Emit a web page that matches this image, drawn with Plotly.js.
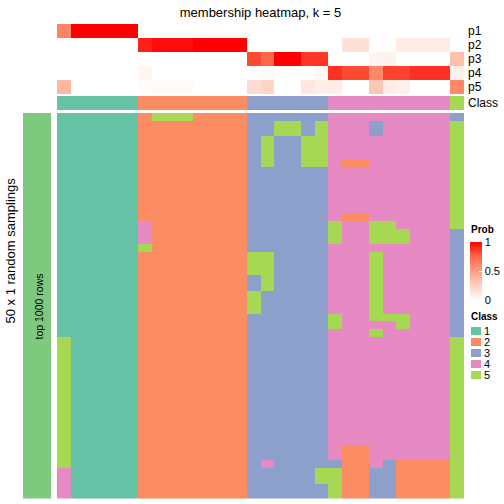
<!DOCTYPE html>
<html><head><meta charset="utf-8">
<script src="https://cdn.plot.ly/plotly-3.0.1.min.js"></script>
<style>html,body{margin:0;padding:0;background:#fff}#chart{width:504px;height:504px}</style>
</head><body><div id="chart"></div>
<script>
// ---- data ----
const classNames = ['1','2','3','4','5'];
const classColors = ['#66C2A5','#FC8D62','#8DA0CB','#E78AC3','#A6D854'];
const probRows = ['p1','p2','p3','p4','p5'];
const p1 = [0.62,1,1,1,1,1, 0,0,0,0,0,0,0,0, 0,0,0,0,0,0, 0,0,0,0,0,0,0,0,0, 0];
const p2 = [0,0,0,0,0,0, 0.92,0.97,0.97,0.97,1,1,1,1, 0,0,0,0,0,0, 0,0.16,0.16,0,0,0.1,0.1,0.1,0.1, 0];
const p3 = [0,0,0,0,0,0, 0,0,0,0,0,0,0,0, 0.82,0.75,1,1,0.87,0.87, 0.01,0,0,0.06,0.07,0,0,0,0, 0.32];
const p4 = [0,0,0,0,0,0, 0.05,0,0,0,0,0,0,0, 0,0.02,0,0,0,0.04, 0.88,0.82,0.82,0.6,0.84,0.84,0.88,0.88,0.88, 0.08];
const p5 = [0.38,0,0,0,0,0, 0.02,0.03,0.03,0.03,0,0,0,0, 0.18,0.22,0,0,0.13,0.09, 0.1,0,0,0.3,0.1,0.08,0,0,0, 0.6];
const consensusClass = [1,1,1,1,1,1, 2,2,2,2,2,2,2,2, 3,3,3,3,3,3, 4,4,4,4,4,4,4,4,4, 5];
// 50 random samplings (rows) x 30 samples (columns), class per cell
const samplings = [
 '111111 25552222 333333 444444444 3',
 '111111 22222222 335535 444344444 5',
 '111111 22222222 335535 444344444 5',
 '111111 22222222 353355 444444444 5',
 '111111 22222222 353355 444444444 5',
 '111111 22222222 353355 444444444 5',
 '111111 22222222 353355 422444444 5',
 '111111 22222222 333333 444444444 5',
 '111111 22222222 333333 444444444 5',
 '111111 22222222 333333 444444444 5',
 '111111 22222222 333333 444444444 5',
 '111111 22222222 333333 444444444 5',
 '111111 22222222 333333 444444444 5',
 '111111 22222222 333333 422444444 5',
 '111111 42222222 333333 544554444 5',
 '111111 42222222 333333 544555444 3',
 '111111 42222222 333333 544555444 3',
 '111111 52222222 333333 444444444 3',
 '111111 22222222 553333 444544444 3',
 '111111 22222222 553333 444544444 3',
 '111111 22222222 553333 444544444 3',
 '111111 22222222 353333 444544444 3',
 '111111 22222222 353333 444544444 3',
 '111111 22222222 533333 444544444 3',
 '111111 22222222 533333 444544444 3',
 '111111 22222222 533333 444544444 3',
 '111111 22222222 333333 544555444 3',
 '111111 22222222 333333 544445444 3',
 '111111 22222222 333333 444544444 3',
 '511111 22222222 333333 444444444 5',
 '511111 22222222 333333 444444444 5',
 '511111 22222222 333333 444444444 5',
 '511111 22222222 333333 444444444 5',
 '511111 22222222 333333 444444444 5',
 '511111 22222222 333333 444444444 5',
 '511111 22222222 333333 444444444 5',
 '511111 22222222 333333 444444444 5',
 '511111 22222222 333333 444444444 5',
 '511111 22222222 333333 444444444 5',
 '511111 22222222 333333 444444444 5',
 '511111 22222222 333333 444444444 5',
 '511111 22222222 333333 444444444 5',
 '511111 22222222 333333 444444444 5',
 '511111 22222222 333333 422444444 5',
 '511111 22222222 333333 422444444 5',
 '511111 22222222 343333 322432222 5',
 '411111 22222222 333335 522332222 5',
 '411111 22222222 333335 522332222 5',
 '411111 22222222 333333 522332222 5',
 '411111 22222222 333333 522332222 5'
];
const rowAnnoLabel = 'top 1000 rows';
const rowTitle = '50 x 1 random samplings';

// ---- layout helpers ----
const W = 504;
const px = v => v / W;
const py = v => 1 - v / W;
const FONT = 'Liberation Sans, Arial, Helvetica, sans-serif';

const classScale = [];
classColors.forEach((c, i) => { classScale.push([i / 5, c]); classScale.push([(i + 1) / 5, c]); });
const probScale = [[0,'#FFFFFF'],[0.25,'rgb(255,207,191)'],[0.5,'rgb(255,158,129)'],[0.75,'rgb(255,103,70)'],[1,'#FF0000']];

const mainZ = samplings.map(s => s.replace(/ /g, '').split('').map(Number));

const traces = [
  { type:'heatmap', z:[p1,p2,p3,p4,p5], y:probRows, xaxis:'x', yaxis:'y',
    zmin:0, zmax:1, colorscale:probScale, hoverinfo:'skip',
    colorbar:{ x:px(470), xanchor:'left', y:py(242), yanchor:'top', len:58, lenmode:'pixels',
      thickness:12, thicknessmode:'pixels', outlinewidth:0, ticks:'inside', ticklen:3, tickcolor:'#fff',
      tickvals:[0,0.5,1], ticktext:['0','0.5','1'], tickfont:{size:11, family:FONT, color:'#000'}, xpad:0, ypad:0 } },
  { type:'heatmap', z:[consensusClass], y:['Class'], xaxis:'x', yaxis:'y2',
    zmin:0.5, zmax:5.5, colorscale:classScale, showscale:false, hoverinfo:'skip' },
  { type:'heatmap', z:mainZ, xaxis:'x', yaxis:'y3',
    zmin:0.5, zmax:5.5, colorscale:classScale, showscale:false, hoverinfo:'skip' },
  { type:'heatmap', z:[[1]], xaxis:'x2', yaxis:'y4',
    colorscale:[[0,'#7FC97F'],[1,'#7FC97F']], showscale:false, hoverinfo:'skip' },
  { type:'heatmap', z:classNames.map(c => [Number(c)]), y:classNames, xaxis:'x3', yaxis:'y5',
    zmin:0.5, zmax:5.5, colorscale:classScale, showscale:false, ygap:3, hoverinfo:'skip' }
];

const hidden = { showgrid:false, zeroline:false, showticklabels:false, ticks:'', showline:false };
const layout = {
  width:504, height:504, margin:{l:0,r:0,t:0,b:0}, paper_bgcolor:'#fff', plot_bgcolor:'#fff',
  font:{family:FONT, color:'#000'},
  title:{ text:'membership heatmap, k = 5', x:px(260.5), xanchor:'center', xref:'paper',
          y:py(12), yanchor:'middle', yref:'paper', font:{size:13, family:FONT, color:'#000'} },
  xaxis: Object.assign({ domain:[px(57), px(464)], range:[-0.5, 29.5] }, hidden),
  yaxis: { domain:[py(94), py(24)], type:'category', autorange:'reversed', side:'right', anchor:'x',
           tickmode:'array', tickvals:probRows, ticktext:probRows,
           showgrid:false, zeroline:false, ticks:'', tickfont:{size:12}, ticklabelstandoff:3 },
  yaxis2:{ domain:[py(110), py(96)], type:'category', side:'right', anchor:'x',
           tickmode:'array', tickvals:['Class'], ticktext:['Class'],
           showgrid:false, zeroline:false, ticks:'', tickfont:{size:12}, ticklabelstandoff:3 },
  yaxis3: Object.assign({ domain:[py(498.5), py(113)], range:[49.5, -0.5], anchor:'x' }, hidden),
  xaxis2: Object.assign({ domain:[px(23), px(51)], range:[-0.5, 0.5], anchor:'y4' }, hidden),
  yaxis4: Object.assign({ domain:[py(498.5), py(113)], range:[-0.5, 0.5], anchor:'x2' }, hidden),
  xaxis3: Object.assign({ domain:[px(471), px(481)], range:[-0.5, 0.5], anchor:'y5' }, hidden),
  yaxis5: { domain:[py(381), py(326)], type:'category', autorange:'reversed', side:'right', anchor:'x3',
            tickmode:'array', tickvals:classNames, ticktext:classNames,
            showgrid:false, zeroline:false, ticks:'', tickfont:{size:11}, ticklabelstandoff:2 },
  annotations:[
    { text:'<b>Prob</b>', x:px(469), y:py(230), xref:'paper', yref:'paper', xanchor:'left', yanchor:'middle', showarrow:false, font:{size:10} },
    { text:'<b>Class</b>', x:px(469), y:py(316), xref:'paper', yref:'paper', xanchor:'left', yanchor:'middle', showarrow:false, font:{size:10} },
    { text:rowTitle, x:px(10), y:py(250.5), xref:'paper', yref:'paper', xanchor:'center', yanchor:'middle', textangle:-90, showarrow:false, font:{size:13} },
    { text:rowAnnoLabel, x:px(38), y:py(306.5), xref:'paper', yref:'paper', xanchor:'center', yanchor:'middle', textangle:-90, showarrow:false, font:{size:10.5} }
  ],
  showlegend:false
};

Plotly.newPlot('chart', traces, layout, {staticPlot:true, displayModeBar:false});
</script>
</body></html>
